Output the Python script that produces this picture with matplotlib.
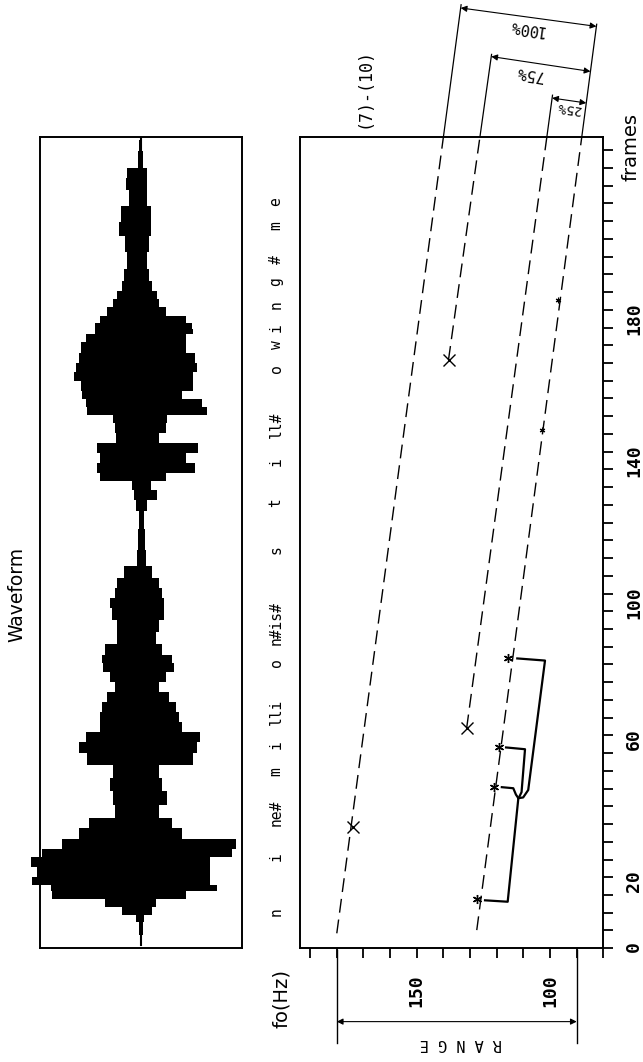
import matplotlib.pyplot as plt
import numpy as np
from matplotlib.ticker import FixedLocator, MultipleLocator

W, H = 643, 1062

# speech waveform envelope (time in frames, swing above / below zero)
wave_frames = [0.9, 6.5, 8.5, 10.2, 13.0, 15.0, 17.0, 18.7, 21.5, 24.4, 26.9, 29.2,
               32.5, 35.3, 38.4, 42.4, 46.1, 49.7, 53.6, 56.5, 59.6, 62.4, 65.2,
               68.0, 70.9, 73.7, 76.5, 79.3, 81.3, 84.0, 87.7, 90.6, 94.5, 97.4,
               100.1, 102.9, 105.8, 109.5, 115.1, 121.3, 125.0, 127.8, 130.6,
               132.6, 135.5, 138.3, 141.1, 143.9, 146.8, 149.6, 151.3, 154.1,
               155.6, 158.4, 161.2, 163.8, 166.0, 169.4, 172.2, 173.9, 175.3,
               177.3, 179.3, 182.1, 183.8, 186.6, 189.4, 193.4, 199.0, 202.6,
               206.8, 211.9, 215.8, 218.6, 221.4, 227.9]
wave_pos = [0.01, 0.02, 0.05, 0.19, 0.36, 0.88, 0.89, 1.08, 1.03, 1.09, 0.98, 0.78,
            0.61, 0.51, 0.26, 0.28, 0.31, 0.28, 0.53, 0.61, 0.54, 0.41, 0.41,
            0.39, 0.34, 0.26, 0.31, 0.38, 0.39, 0.36, 0.24, 0.24, 0.29, 0.31,
            0.26, 0.24, 0.17, 0.04, 0.03, 0.02, 0.05, 0.07, 0.09,
            0.41, 0.44, 0.41, 0.44, 0.25, 0.26, 0.28, 0.53, 0.54,
            0.58, 0.59, 0.66, 0.64, 0.61, 0.59, 0.54, 0.46, 0.46,
            0.41, 0.34, 0.28, 0.24, 0.19, 0.17, 0.14, 0.16, 0.22,
            0.20, 0.12, 0.15, 0.14, 0.03, 0.02]
wave_neg = [0.01, 0.02, 0.03, 0.11, 0.15, 0.45, 0.75, 0.68, 0.68, 0.68, 0.90, 0.94,
            0.41, 0.31, 0.18, 0.26, 0.21, 0.18, 0.51, 0.55, 0.58, 0.41, 0.38,
            0.35, 0.28, 0.18, 0.25, 0.33, 0.31, 0.21, 0.15, 0.18, 0.23, 0.23,
            0.21, 0.18, 0.11, 0.05, 0.04, 0.03, 0.06, 0.16, 0.10,
            0.25, 0.53, 0.45, 0.56, 0.18, 0.25, 0.26, 0.65, 0.60,
            0.41, 0.51, 0.51, 0.55, 0.53, 0.45, 0.45, 0.51, 0.50,
            0.45, 0.25, 0.18, 0.16, 0.11, 0.08, 0.06, 0.08, 0.10,
            0.10, 0.06, 0.06, 0.06, 0.02, 0.01]

# phoneme transcription along the frame axis
phonemes = ["n", "i", "ne#", "m", "i", "lli", "o", "n#is#", "s", "t", "i",
            "ll#", "o", "w", "i", "n", "g", "#", "m", "e"]
phoneme_frames = [10.2, 25.7, 38.1, 49.7, 57.3, 66.6, 80.4, 91.7, 112.3, 125.6,
                  137.1, 147.5, 163.3, 170.2, 175.0, 181.5, 188.0, 194.2, 203.6, 210.4]

# declination lines: topline, 75 %, 25 %, baseline
line_start_frame = [4.2, 165.9, 62.0, 5.1]
line_start_fo = [180.0, 138.1, 131.3, 127.5]
line_end_frame = 228.8
line_end_fo = [140.0, 126.3, 101.2, 88.1]
ext_end_frame = [266.0, 252.0, 240.5, 260.5]

# X anchors
anchor_frames = [34.3, 165.9, 62.0]
anchor_fo = [173.8, 138.1, 131.3]

# fo peaks (*)
peak_frames = [13.8, 45.5, 56.7, 81.8]
peak_fo = [127.5, 120.9, 119.0, 115.7]
small_peak_frames = [146.1, 182.8]
small_peak_fo = [103.1, 96.9]

# bracket joining the peaks
bracket_fo = [[124.4, 115.9, 111.9],
              [118.1, 113.8, 112.8, 111.9],
              [116.5, 109.4, 110.7, 111.6],
              [112.3, 101.9, 108.2, 110.1, 111.9]]
bracket_frames = [[13.5, 13.1, 42.3],
                  [45.4, 45.1, 43.3, 42.3],
                  [56.6, 56.1, 44.0, 42.6],
                  [81.7, 81.1, 44.6, 42.5, 42.3]]

# percentage dimension arrows (line index -> baseline)
pct_labels = ["100%", "75%", "25%"]
pct_line = [0, 1, 2]
pct_left_frame = [265.1, 251.4, 239.7]
pct_right_frame = [259.9, 247.2, 238.3]
pct_label_frame = [259.4, 246.7, 236.9]
pct_label_fo = [108.8, 107.5, 93.2]
pct_label_size = [11, 11, 9.5]

range_fo = [180, 90]

FRAME_MAX = 228.8
FO_LEFT, FO_RIGHT = 193.8, 80.0
MONO = "DejaVu Sans Mono"


def line_fo(i, frame):
    f0, y0 = line_start_frame[i], line_start_fo[i]
    slope = (line_end_fo[i] - y0) / (line_end_frame - f0)
    return y0 + slope * (frame - f0)


def put(x, y, s, **kw):
    fig.text(x / W, 1 - y / H, s, **kw)


fig = plt.figure(figsize=(W / 100, H / 100), dpi=100)
bottom = 1 - 948.2 / H
height = (948.2 - 136.7) / H

# --- waveform panel ---
wx = fig.add_axes([40 / W, bottom, 202 / W, height])
wx.fill_betweenx(wave_frames, -np.array(wave_neg), wave_pos, step="mid",
                 color="black", lw=0, clip_on=False)
wx.plot([0, 0], [min(wave_frames), FRAME_MAX], color="black", lw=1.5)
wx.set_xlim(1, -1)
wx.set_ylim(0, FRAME_MAX)
wx.set_xticks([])
wx.set_yticks([])
for s in wx.spines.values():
    s.set_linewidth(1.4)

# --- fo panel ---
ax = fig.add_axes([300 / W, bottom, 303.4 / W, height])
ax.set_xlim(FO_LEFT, FO_RIGHT)
ax.set_ylim(0, FRAME_MAX)
for s in ax.spines.values():
    s.set_linewidth(1.4)

ax.yaxis.tick_right()
ax.yaxis.set_major_locator(FixedLocator([0, 20, 60, 100, 140, 180]))
ax.yaxis.set_minor_locator(MultipleLocator(5))
ax.xaxis.set_major_locator(FixedLocator([150, 100]))
ax.xaxis.set_minor_locator(MultipleLocator(10))
ax.tick_params(which="both", direction="out", length=7.5, width=1.3)
ax.tick_params(axis="x", labelrotation=90, pad=11)
ax.tick_params(axis="y", labelrotation=90, pad=8)
for lab in ax.get_xticklabels() + ax.get_yticklabels():
    lab.set_fontfamily(MONO)
    lab.set_fontsize(13)
    lab.set_fontweight("bold")

# declination lines with their extensions above the plot
for i in range(4):
    ax.plot([line_fo(i, line_start_frame[i]), line_fo(i, line_end_frame)],
            [line_start_frame[i], line_end_frame], color="black", lw=1.0,
            dashes=(10, 5))
    ax.plot([line_fo(i, line_end_frame), line_fo(i, ext_end_frame[i])],
            [line_end_frame, ext_end_frame[i]], color="black", lw=0.9,
            clip_on=False)

ax.plot(anchor_fo, anchor_frames, ls="none", marker="x", ms=8, mew=1.0,
        color="black")
ax.plot(peak_fo, peak_frames, ls="none", marker=(6, 2, 0), ms=6.5, mew=1.0,
        color="black")
ax.plot(small_peak_fo, small_peak_frames, ls="none", marker=(6, 2, 0), ms=4,
        mew=0.8, color="black")
for bf, bt in zip(bracket_fo, bracket_frames):
    ax.plot(bf, bt, color="black", lw=1.6, solid_joinstyle="round")

arrow = dict(arrowstyle="<|-|>", color="black", lw=0.8, mutation_scale=9,
             shrinkA=0, shrinkB=0)
for k, lab in enumerate(pct_labels):
    i = pct_line[k]
    ax.annotate("", xy=(line_fo(3, pct_right_frame[k]), pct_right_frame[k]),
                xytext=(line_fo(i, pct_left_frame[k]), pct_left_frame[k]),
                arrowprops=arrow, annotation_clip=False)
    ax.text(pct_label_fo[k], pct_label_frame[k], lab, rotation=172,
            ha="center", va="center", fontsize=pct_label_size[k],
            family=MONO, clip_on=False)

# RANGE bracket under the fo axis
for r in range_fo:
    ax.plot([r, r], [-0.5, -26.7], color="black", lw=1.0, clip_on=False)
ax.annotate("", xy=(range_fo[1], -20.7), xytext=(range_fo[0], -20.7),
            arrowprops=arrow, annotation_clip=False)
ax.text(np.mean(range_fo) - 1.5, -27.0, "R A N G E", rotation=180,
        ha="center", va="center", fontsize=11, family=MONO, clip_on=False)

# phoneme labels between the panels
for ph, fr in zip(phonemes, phoneme_frames):
    ax.text(-0.079, fr, ph, transform=ax.get_yaxis_transform(), rotation=90,
            ha="center", va="center", fontsize=10.5, family=MONO,
            clip_on=False)

put(17, 594, "Waveform", rotation=90, ha="center", va="center", fontsize=13.5)
put(281, 999, "fo(Hz)", rotation=90, ha="center", va="center", fontsize=14)
put(631, 147, "frames", rotation=90, ha="center", va="center", fontsize=14)
put(365, 88, "(7)-(10)", rotation=90, ha="center", va="center", fontsize=12,
    family=MONO)

fig.savefig("out.png", dpi=100)
